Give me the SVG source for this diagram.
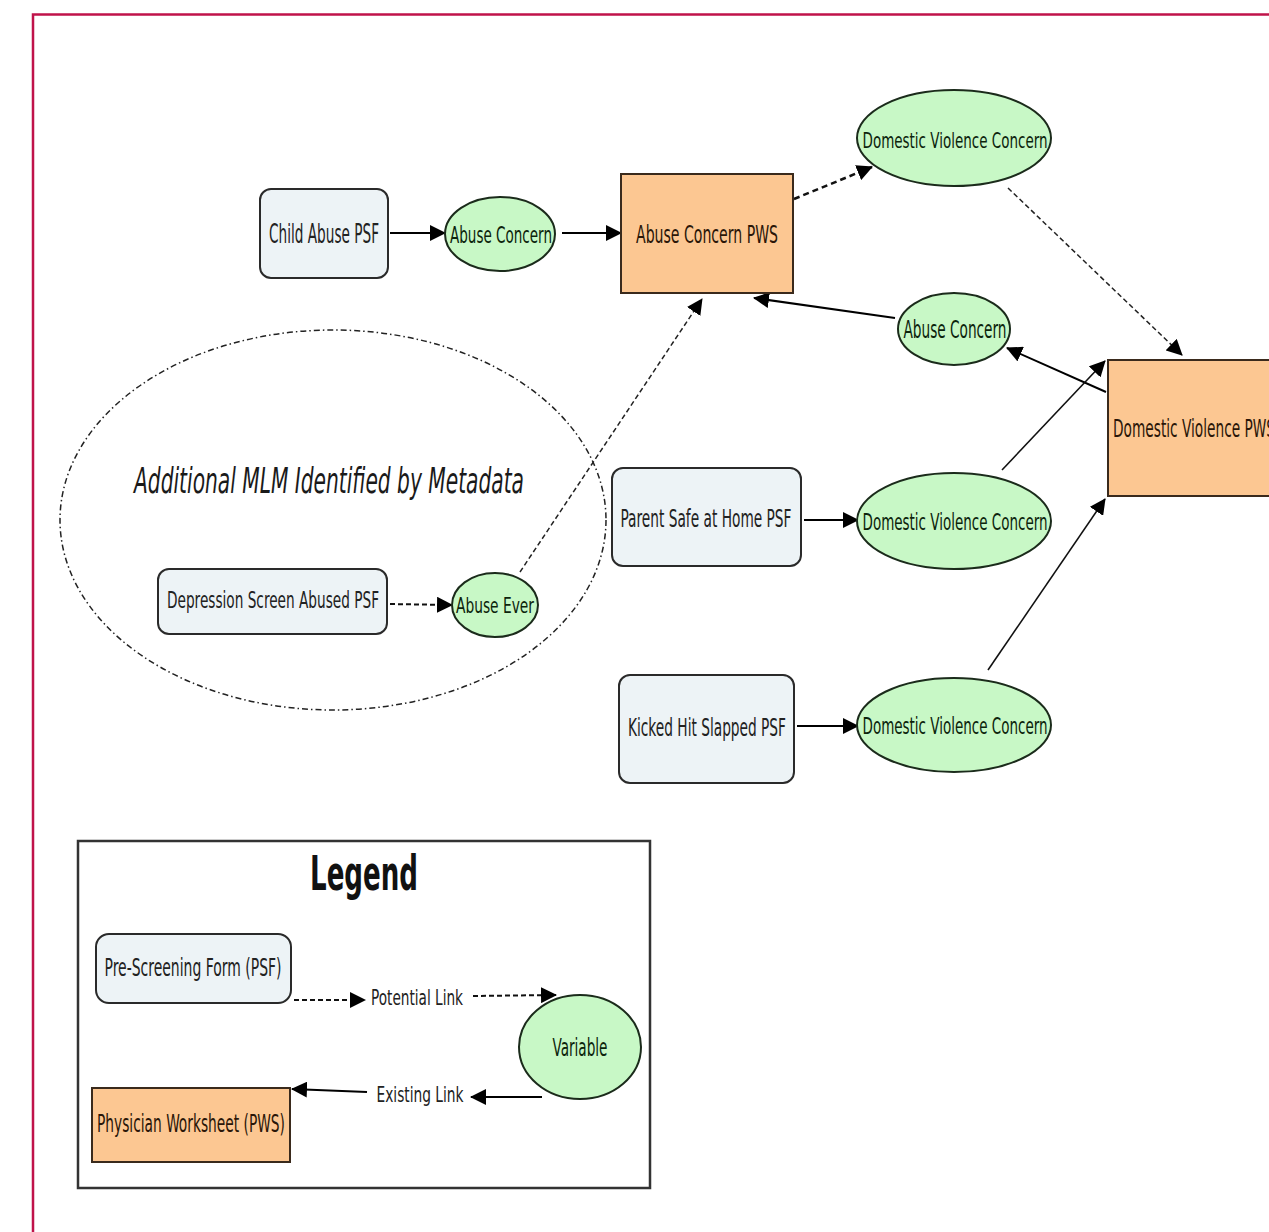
<svg xmlns="http://www.w3.org/2000/svg" width="1269" height="1232" viewBox="0 0 1269 1232">
<defs>
<marker id="arr" markerUnits="userSpaceOnUse" markerWidth="16" markerHeight="16" viewBox="0 0 16 16" refX="15" refY="8" orient="auto">
<path d="M0,0 L16,8 L0,16 z" fill="#000" stroke="none"/>
</marker>
</defs>
<style>
.psf{fill:#edf3f6;stroke:#2a2a2a;stroke-width:2}
.var{fill:#c8f8c6;stroke:#1b2b1b;stroke-width:2}
.pws{fill:#fcc792;stroke:#3a2a1c;stroke-width:2}
.t{font-family:"DejaVu Sans Condensed","DejaVu Sans",sans-serif;text-anchor:middle}
.tp{fill:#222}
.tv{fill:#0c240c}
.tw{fill:#2a1608}
.solid{stroke:#000;stroke-width:2;fill:none}
.thin{stroke:#111;stroke-width:1.6;fill:none}
.dash{stroke:#111;stroke-width:2.5;stroke-dasharray:6 4;fill:none}
.dash2{stroke:#222;stroke-width:1.5;stroke-dasharray:5 3;fill:none}
.dashL{stroke:#111;stroke-width:2;stroke-dasharray:5 3;fill:none}
</style>
<rect x="0" y="0" width="1269" height="1232" fill="#fff"/>
<rect id="frame" x="33" y="14.5" width="1260" height="1240" fill="none" stroke="#c0134a" stroke-width="2.5"/>

<g id="group-mlm">
<ellipse cx="333" cy="520" rx="273" ry="190" fill="none" stroke="#222" stroke-width="1.5" stroke-dasharray="6 3 1.5 3"/>
<text class="t" x="329" y="493" font-size="36" font-style="italic" fill="#1a1a1a" textLength="390" lengthAdjust="spacingAndGlyphs">Additional MLM Identified by Metadata</text>
</g>

<g id="connectors">
<line class="solid" x1="390" y1="233" x2="445" y2="233" marker-end="url(#arr)"/>
<line class="solid" x1="562" y1="233" x2="621" y2="233" marker-end="url(#arr)"/>
<line class="dash" x1="794" y1="199" x2="872" y2="167" marker-end="url(#arr)"/>
<line class="dash2" x1="1008" y1="188" x2="1182" y2="355" marker-end="url(#arr)"/>
<line class="solid" x1="895" y1="318" x2="754" y2="298" marker-end="url(#arr)"/>
<line class="solid" x1="1106" y1="392" x2="1007" y2="348" marker-end="url(#arr)"/>
<line class="thin" x1="1002" y1="470" x2="1105" y2="361" marker-end="url(#arr)"/>
<line class="thin" x1="988" y1="670" x2="1105" y2="499" marker-end="url(#arr)"/>
<line class="solid" x1="804" y1="520" x2="858" y2="520" marker-end="url(#arr)"/>
<line class="solid" x1="797" y1="726" x2="858" y2="726" marker-end="url(#arr)"/>
<line class="dashL" x1="390" y1="604" x2="452" y2="605" marker-end="url(#arr)"/>
<line class="dash2" x1="520" y1="572" x2="702" y2="299" marker-end="url(#arr)"/>
</g>

<g id="child-abuse-psf">
<rect class="psf" x="260" y="189" width="128" height="89" rx="11"/>
<text class="t tp" x="324" y="243" font-size="26" textLength="110" lengthAdjust="spacingAndGlyphs">Child Abuse PSF</text>
</g>
<g id="abuse-concern-1">
<ellipse class="var" cx="500" cy="234" rx="55" ry="37"/>
<text class="t tv" x="501" y="243" font-size="23" textLength="102" lengthAdjust="spacingAndGlyphs">Abuse Concern</text>
</g>
<g id="abuse-concern-pws">
<rect class="pws" x="621" y="174" width="172" height="119"/>
<text class="t tw" x="707" y="243" font-size="24" textLength="142" lengthAdjust="spacingAndGlyphs">Abuse  Concern PWS</text>
</g>
<g id="dv-concern-1">
<ellipse class="var" cx="954" cy="138" rx="97" ry="48"/>
<text class="t tv" x="955" y="148" font-size="22" textLength="185" lengthAdjust="spacingAndGlyphs">Domestic Violence Concern</text>
</g>
<g id="abuse-concern-2">
<ellipse class="var" cx="954" cy="329" rx="56" ry="36"/>
<text class="t tv" x="955" y="338" font-size="24" textLength="103" lengthAdjust="spacingAndGlyphs">Abuse Concern</text>
</g>
<g id="dv-pws">
<rect class="pws" x="1108" y="360" width="200" height="136"/>
<text class="t tw" x="1113" y="437" font-size="24" text-anchor="start" style="text-anchor:start" textLength="162" lengthAdjust="spacingAndGlyphs">Domestic Violence PWS</text>
</g>
<g id="parent-safe-psf">
<rect class="psf" x="612" y="468" width="189" height="98" rx="11"/>
<text class="t tp" x="706" y="527" font-size="24" textLength="171" lengthAdjust="spacingAndGlyphs">Parent Safe at Home PSF</text>
</g>
<g id="dv-concern-2">
<ellipse class="var" cx="954" cy="521" rx="97" ry="48"/>
<text class="t tv" x="955" y="530" font-size="23" textLength="185" lengthAdjust="spacingAndGlyphs">Domestic Violence Concern</text>
</g>
<g id="kicked-psf">
<rect class="psf" x="619" y="675" width="175" height="108" rx="11"/>
<text class="t tp" x="707" y="736" font-size="25" textLength="158" lengthAdjust="spacingAndGlyphs">Kicked Hit Slapped PSF</text>
</g>
<g id="dv-concern-3">
<ellipse class="var" cx="954" cy="725" rx="97" ry="47"/>
<text class="t tv" x="955" y="734" font-size="23" textLength="185" lengthAdjust="spacingAndGlyphs">Domestic Violence Concern</text>
</g>
<g id="depression-psf">
<rect class="psf" x="158" y="569" width="229" height="65" rx="11"/>
<text class="t tp" x="273" y="608" font-size="23" textLength="212" lengthAdjust="spacingAndGlyphs">Depression Screen Abused PSF</text>
</g>
<g id="abuse-ever">
<ellipse class="var" cx="495" cy="605" rx="43" ry="32"/>
<text class="t tv" x="495" y="613" font-size="22" textLength="78" lengthAdjust="spacingAndGlyphs">Abuse Ever</text>
</g>

<g id="legend">
<rect x="78" y="841" width="572" height="347" fill="#fff" stroke="#333" stroke-width="2.5"/>
<text class="t" x="364" y="890" font-size="48" font-weight="bold" fill="#111" textLength="108" lengthAdjust="spacingAndGlyphs">Legend</text>
<rect class="psf" x="96" y="934" width="195" height="69" rx="13"/>
<text class="t tp" x="193" y="976" font-size="24" textLength="177" lengthAdjust="spacingAndGlyphs">Pre-Screening Form (PSF)</text>
<line class="dashL" x1="294" y1="1000" x2="365" y2="1000" marker-end="url(#arr)"/>
<text class="t tp" x="417" y="1005" font-size="22" textLength="92" lengthAdjust="spacingAndGlyphs">Potential Link</text>
<line class="dashL" x1="473" y1="996" x2="556" y2="995" marker-end="url(#arr)"/>
<ellipse class="var" cx="580" cy="1047" rx="61" ry="52"/>
<text class="t tv" x="580" y="1056" font-size="24" textLength="55" lengthAdjust="spacingAndGlyphs">Variable</text>
<line class="solid" x1="542" y1="1097" x2="471" y2="1097" marker-end="url(#arr)"/>
<text class="t tp" x="420" y="1102" font-size="22" textLength="87" lengthAdjust="spacingAndGlyphs">Existing Link</text>
<line class="solid" x1="367" y1="1092" x2="292" y2="1089" marker-end="url(#arr)"/>
<rect class="pws" x="92" y="1088" width="198" height="74"/>
<text class="t tw" x="191" y="1132" font-size="24" textLength="188" lengthAdjust="spacingAndGlyphs">Physician Worksheet (PWS)</text>
</g>
</svg>
